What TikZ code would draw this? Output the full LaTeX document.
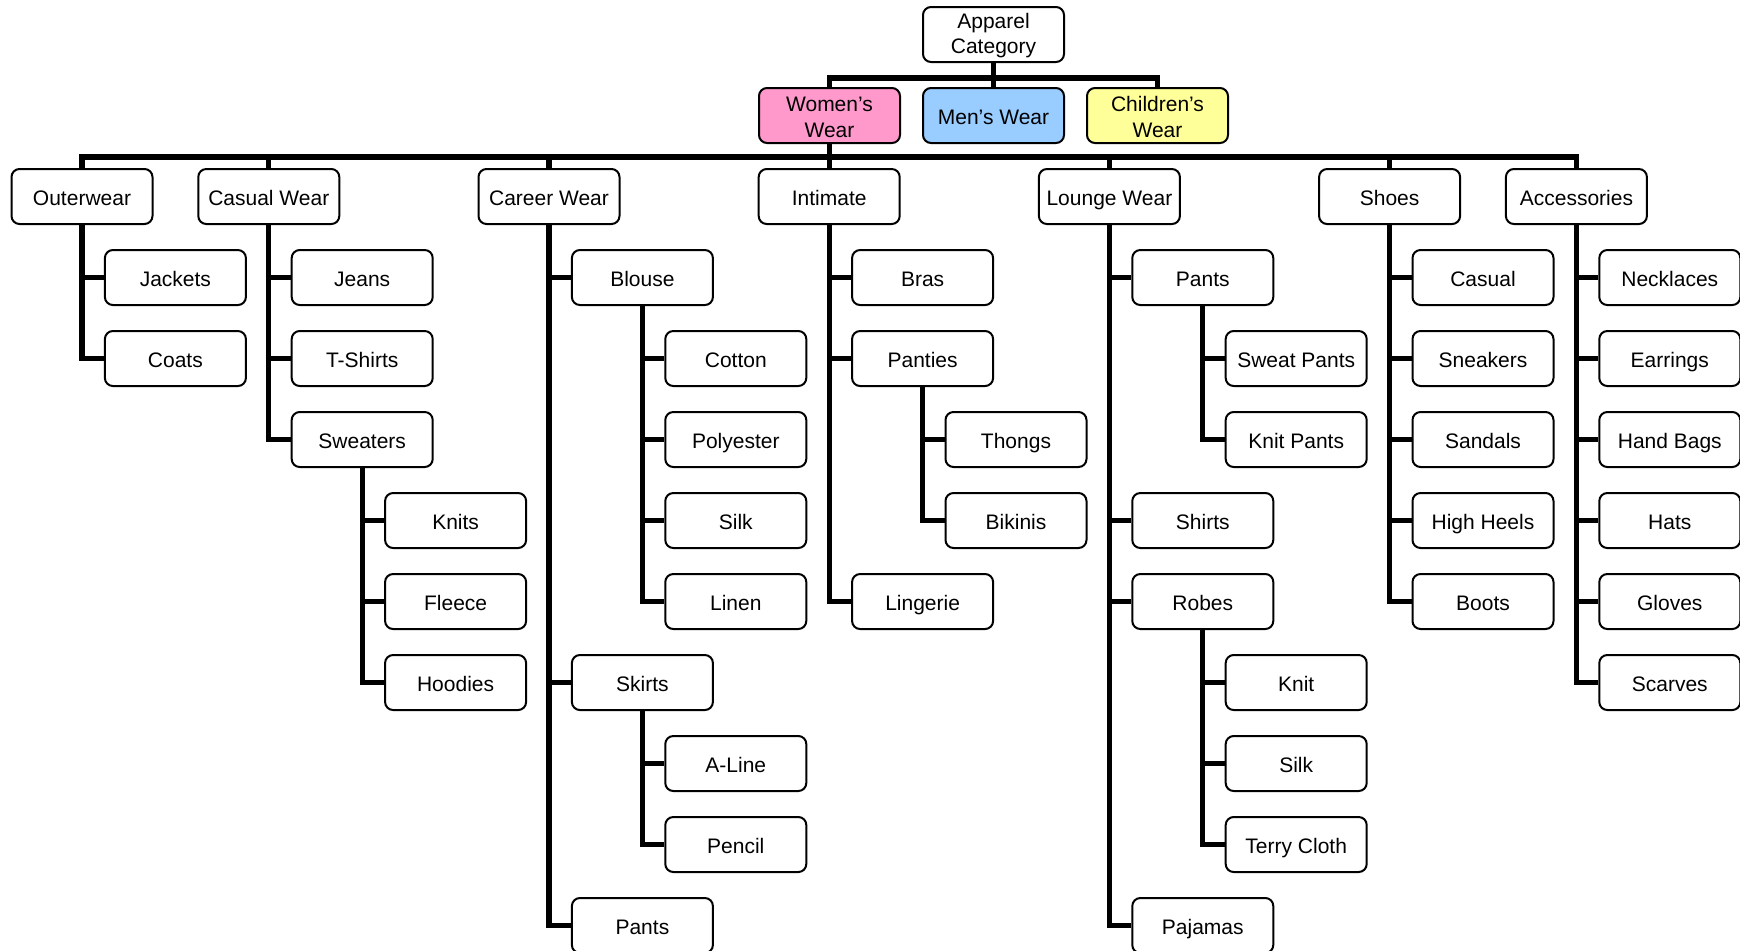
\documentclass[tikz,border=0pt]{standalone}
\usepackage{fontspec}
\setmainfont{Liberation Sans}
\pgfdeclarelayer{background}
\pgfsetlayers{background,main}
\newcommand\tlstrut{\rule{0pt}{8.8pt}}
\begin{document}
\begin{tikzpicture}[x=0.5pt,y=-0.5pt,
  boxbase/.style={draw=black,line width=1pt,rounded corners=4pt,fill=white,
    minimum width=70.5pt,minimum height=27.5pt,inner sep=0pt,
    font=\fontsize{10.5}{12.8}\selectfont},
  box/.style={boxbase,text height=8.77pt,text depth=0pt},
  twoline/.style={boxbase,align=center},
  conn/.style={line width=2.6pt,draw=black}]
\useasboundingbox (0,0) rectangle (1740,950);
\definecolor{pinkc}{HTML}{FF99CC}
\definecolor{bluec}{HTML}{99CCFF}
\definecolor{yellowc}{HTML}{FFFF99}
% level 0 and 1
\node[twoline] (app) at (993.5,34.5) {\tlstrut Apparel\\Category};
\node[twoline,fill=pinkc] (women) at (829.5,115.5) {\tlstrut Women’s\\Wear};
\node[box,fill=bluec] (men) at (993.5,115.5) {Men’s Wear};
\node[twoline,fill=yellowc] (children) at (1157.5,115.5) {\tlstrut Children’s\\Wear};
% level 2
\node[box] (outer) at (82,196.5) {Outerwear};
\node[box] (casualw) at (268.8,196.5) {Casual Wear};
\node[box] (career) at (549,196.5) {Career Wear};
\node[box] (intimate) at (829.2,196.5) {Intimate};
\node[box] (lounge) at (1109.4,196.5) {Lounge Wear};
\node[box] (shoes) at (1389.6,196.5) {Shoes};
\node[box] (acc) at (1576.4,196.5) {Accessories};
% outerwear
\node[box] (jackets) at (175.4,277.5) {Jackets};
\node[box] (coats) at (175.4,358.5) {Coats};
% casual wear
\node[box] (jeans) at (362.2,277.5) {Jeans};
\node[box] (tshirts) at (362.2,358.5) {T-Shirts};
\node[box] (sweaters) at (362.2,439.5) {Sweaters};
\node[box] (knits) at (455.6,520.5) {Knits};
\node[box] (fleece) at (455.6,601.5) {Fleece};
\node[box] (hoodies) at (455.6,682.5) {Hoodies};
% career wear
\node[box] (blouse) at (642.4,277.5) {Blouse};
\node[box] (cotton) at (735.8,358.5) {Cotton};
\node[box] (poly) at (735.8,439.5) {Polyester};
\node[box] (silka) at (735.8,520.5) {Silk};
\node[box] (linen) at (735.8,601.5) {Linen};
\node[box] (skirts) at (642.4,682.5) {Skirts};
\node[box] (aline) at (735.8,763.5) {A-Line};
\node[box] (pencil) at (735.8,844.5) {Pencil};
\node[box] (pantsa) at (642.4,925.5) {Pants};
% intimate
\node[box] (bras) at (922.6,277.5) {Bras};
\node[box] (panties) at (922.6,358.5) {Panties};
\node[box] (thongs) at (1016,439.5) {Thongs};
\node[box] (bikinis) at (1016,520.5) {Bikinis};
\node[box] (lingerie) at (922.6,601.5) {Lingerie};
% lounge wear
\node[box] (pantsb) at (1202.8,277.5) {Pants};
\node[box] (sweat) at (1296.2,358.5) {Sweat Pants};
\node[box] (knitp) at (1296.2,439.5) {Knit Pants};
\node[box] (shirts) at (1202.8,520.5) {Shirts};
\node[box] (robes) at (1202.8,601.5) {Robes};
\node[box] (knit) at (1296.2,682.5) {Knit};
\node[box] (silkb) at (1296.2,763.5) {Silk};
\node[box] (terry) at (1296.2,844.5) {Terry Cloth};
\node[box] (pajamas) at (1202.8,925.5) {Pajamas};
% shoes
\node[box] (casual) at (1483,277.5) {Casual};
\node[box] (sneakers) at (1483,358.5) {Sneakers};
\node[box] (sandals) at (1483,439.5) {Sandals};
\node[box] (heels) at (1483,520.5) {High Heels};
\node[box] (boots) at (1483,601.5) {Boots};
% accessories
\node[box] (neck) at (1669.8,277.5) {Necklaces};
\node[box] (ear) at (1669.8,358.5) {Earrings};
\node[box] (bags) at (1669.8,439.5) {Hand Bags};
\node[box] (hats) at (1669.8,520.5) {Hats};
\node[box] (gloves) at (1669.8,601.5) {Gloves};
\node[box] (scarves) at (1669.8,682.5) {Scarves};
\coordinate (busa) at (0,78);
\coordinate (busb) at (0,157);
\begin{pgfonlayer}{background}
\draw[conn] (app.south) -- (app.south |- busa);
\draw[conn] (women.north) -- (women.north |- busa) -| (children.north);
\draw[conn] (men.north) -- (men.north |- busa);
\draw[conn] (women.south) -- (women.south |- busb);
\draw[conn] (outer.north) -- (outer.north |- busb) -| (acc.north);
\foreach \n in {casualw,career,intimate,lounge,shoes}
  \draw[conn] (\n.north) -- (\n.north |- busb);
\foreach \c in {jackets,coats} \draw[conn] (outer.south) |- (\c.west);
\foreach \c in {jeans,tshirts,sweaters} \draw[conn] (casualw.south) |- (\c.west);
\foreach \c in {knits,fleece,hoodies} \draw[conn] (sweaters.south) |- (\c.west);
\foreach \c in {blouse,skirts,pantsa} \draw[conn] (career.south) |- (\c.west);
\foreach \c in {cotton,poly,silka,linen} \draw[conn] (blouse.south) |- (\c.west);
\foreach \c in {aline,pencil} \draw[conn] (skirts.south) |- (\c.west);
\foreach \c in {bras,panties,lingerie} \draw[conn] (intimate.south) |- (\c.west);
\foreach \c in {thongs,bikinis} \draw[conn] (panties.south) |- (\c.west);
\foreach \c in {pantsb,shirts,robes,pajamas} \draw[conn] (lounge.south) |- (\c.west);
\foreach \c in {sweat,knitp} \draw[conn] (pantsb.south) |- (\c.west);
\foreach \c in {knit,silkb,terry} \draw[conn] (robes.south) |- (\c.west);
\foreach \c in {casual,sneakers,sandals,heels,boots} \draw[conn] (shoes.south) |- (\c.west);
\foreach \c in {neck,ear,bags,hats,gloves,scarves} \draw[conn] (acc.south) |- (\c.west);
\end{pgfonlayer}
\end{tikzpicture}
\end{document}
